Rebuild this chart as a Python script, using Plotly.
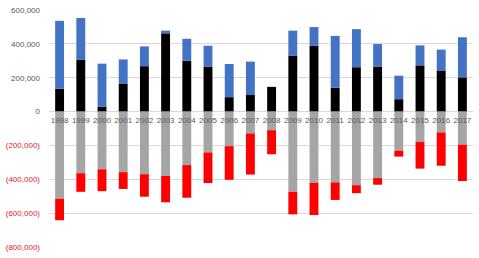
import plotly.graph_objects as go

years = [str(y) for y in range(1998, 2018)]
black_vals = [135000, 305000, 29000, 166000, 268000, 462000, 300000, 266000, 85000, 98000,
              146000, 331000, 389000, 141000, 262000, 266000, 73000, 273000, 243000, 202000]
blue_vals = [401000, 248000, 254000, 142000, 117000, 16000, 130000, 123000, 196000, 197000,
             0, 147000, 110000, 306000, 225000, 133000, 139000, 118000, 123000, 237000]
gray_vals = [-514000, -364000, -341000, -358000, -370000, -380000, -316000, -241000, -204000, -129000,
             -110000, -474000, -420000, -418000, -435000, -393000, -231000, -179000, -123000, -195000]
red_vals = [-128000, -110000, -129000, -99000, -133000, -156000, -193000, -181000, -199000, -243000,
            -142000, -133000, -191000, -104000, -47000, -39000, -35000, -158000, -197000, -215000]

tick_vals = [600000, 400000, 200000, 0, -200000, -400000, -600000, -800000]
tick_text = ["600,000", "400,000", "200,000", "0",
             "<span style='color:#E8202A'>(200,000)</span>",
             "<span style='color:#E8202A'>(400,000)</span>",
             "<span style='color:#E8202A'>(600,000)</span>",
             "<span style='color:#E8202A'>(800,000)</span>"]

fig = go.Figure()
fig.add_bar(x=years, y=black_vals, marker_color="#000000", marker_line_width=0)
fig.add_bar(x=years, y=blue_vals, marker_color="#4472C4", marker_line_width=0)
fig.add_bar(x=years, y=gray_vals, marker_color="#A5A5A5", marker_line_width=0)
fig.add_bar(x=years, y=red_vals, marker_color="#FF0000", marker_line_width=0)

ymin, ymax = -800000, 600000
fig.update_layout(
    barmode="relative",
    bargap=0.58,
    showlegend=False,
    width=479, height=258,
    margin=dict(l=43, r=6, t=7, b=9),
    plot_bgcolor="white", paper_bgcolor="white",
    font=dict(family="Liberation Sans, Arial", size=8, color="#595959"),
    xaxis=dict(
        type="category",
        anchor="free",
        position=(0 - ymin) / (ymax - ymin),
        showline=False,
        showgrid=False,
        ticks="",
        tickfont=dict(size=8, color="#595959"),
        ticklabelstandoff=2,
    ),
    yaxis=dict(
        range=[ymin, ymax],
        tickvals=tick_vals,
        ticktext=tick_text,
        showgrid=True,
        gridcolor="#D9D9D9",
        gridwidth=1,
        zeroline=True,
        zerolinecolor="#D9D9D9",
        zerolinewidth=1,
        tickfont=dict(size=8, color="#595959"),
        ticklabelstandoff=8,
    ),
)

fig.write_html("out.html")
